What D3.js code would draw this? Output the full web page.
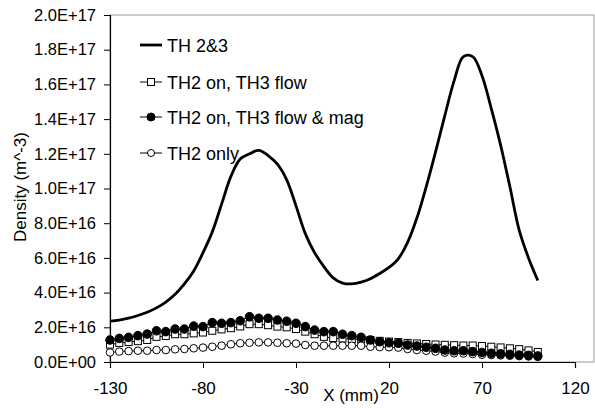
<!DOCTYPE html>
<html><head><meta charset="utf-8">
<script src="https://cdn.jsdelivr.net/npm/d3@7"></script>
<style>body{margin:0;background:#fff}svg{display:block;font-family:"Liberation Sans",Arial,sans-serif}</style>
</head><body><svg id="c" width="595" height="413"></svg>
<script>
// X positions (mm)
const xMain = [-130,-125,-120,-115,-110,-105,-100,-95,-90,-85,-80,-75,-70,-65,-60,-55,-50,-45,-40,-35,-30,-25,-20,-15,-10,-5,0,5,10,15,20,25,30,35,40,45,50,55,60,65,70,75,80,85,90,95,100];
// TH 2&3 (units of 1E16 m^-3)
const th23 = [2.35,2.42,2.53,2.68,2.87,3.12,3.45,3.9,4.5,5.25,6.3,7.5,9.1,10.7,11.7,12.0,12.2,11.9,11.4,10.5,9.0,7.4,6.3,5.5,4.85,4.55,4.5,4.6,4.8,5.1,5.45,5.95,6.9,8.3,10.1,12.1,14.2,16.2,17.6,17.6,16.5,14.6,12.5,10.1,7.6,6.0,4.7];
// TH2 on, TH3 flow
const thFlow = [1.0,1.1,1.15,1.2,1.27,1.45,1.5,1.6,1.6,1.65,1.7,1.8,1.88,1.95,2.05,2.18,2.18,2.12,2.04,2.0,1.9,1.75,1.6,1.45,1.38,1.35,1.32,1.3,1.27,1.22,1.18,1.15,1.1,1.07,1.04,1.01,0.99,0.97,0.95,0.95,0.92,0.88,0.84,0.79,0.74,0.67,0.58];
// TH2 on, TH3 flow & mag
const thFlowMag = [1.27,1.36,1.42,1.52,1.61,1.8,1.75,1.9,1.9,2.07,2.04,2.27,2.23,2.27,2.38,2.61,2.52,2.52,2.42,2.35,2.23,2.04,1.84,1.75,1.75,1.6,1.52,1.42,1.27,1.17,1.11,1.08,0.98,0.92,0.85,0.79,0.69,0.65,0.65,0.6,0.55,0.5,0.47,0.44,0.4,0.38,0.35];
// TH2 only
const th2only = [0.55,0.6,0.63,0.65,0.65,0.69,0.69,0.73,0.75,0.79,0.83,0.88,0.94,1.02,1.08,1.11,1.13,1.13,1.11,1.08,1.06,0.98,0.94,0.94,0.94,0.94,0.94,0.94,0.88,0.86,0.85,0.83,0.75,0.69,0.65,0.6,0.54,0.5,0.49,0.46,0.42,0.4,0.38,0.36,0.34,0.32,0.3];
const xTicks = [-130,-80,-30,20,70,120];
const yTicks = [0,2,4,6,8,10,12,14,16,18,20];
const yTickLabels = ["0.0E+00","2.0E+16","4.0E+16","6.0E+16","8.0E+16","1.0E+17","1.2E+17","1.4E+17","1.6E+17","1.8E+17","2.0E+17"];
const legendLabels = ["TH 2&3","TH2 on, TH3 flow","TH2 on, TH3 flow & mag","TH2 only"];

const svg = d3.select("#c");
const x = d3.scaleLinear().domain([-130,120]).range([110,575]);
const y = d3.scaleLinear().domain([0,20]).range([362,15]);

// plot area border
svg.append("rect").attr("x",110).attr("y",15).attr("width",484).attr("height",347)
  .attr("fill","none").attr("stroke","#9a9a9a").attr("stroke-width",1);

// axes
const yAxis = d3.axisLeft(y).tickValues(yTicks).tickSize(6).tickPadding(8)
  .tickFormat((d,i)=>yTickLabels[i]);
const gy = svg.append("g").attr("transform","translate(110,0)").call(yAxis);
gy.select(".domain").attr("stroke","#000").attr("stroke-width",1.2);
gy.selectAll("text").attr("font-size",16.5).attr("fill","#000").attr("font-family","Liberation Sans, Arial, sans-serif");

const xAxis = d3.axisBottom(x).tickValues(xTicks).tickSize(6).tickPadding(14).tickFormat(d=>String(d));
const gx = svg.append("g").attr("transform","translate(0,362)").call(xAxis);
gx.select(".domain").attr("stroke","#000").attr("stroke-width",1.2);
gx.selectAll("text").attr("font-size",17).attr("fill","#000").attr("font-family","Liberation Sans, Arial, sans-serif");

// axis titles
svg.append("text").attr("x",351).attr("y",401).attr("text-anchor","middle")
  .attr("font-size",17).text("X (mm)");
svg.append("text").attr("transform","translate(26,187) rotate(-90)").attr("text-anchor","middle")
  .attr("font-size",17).text("Density (m^-3)");

const pts = arr => xMain.map((xv,i)=>[xv,arr[i]]);
const smooth = d3.line().x(d=>x(d[0])).y(d=>y(d[1])).curve(d3.curveCatmullRom.alpha(0.5));
const straight = d3.line().x(d=>x(d[0])).y(d=>y(d[1]));

// marker series
function markerSeries(arr, kind){
  const g = svg.append("g");
  g.append("path").attr("d",straight(pts(arr))).attr("fill","none").attr("stroke","#000").attr("stroke-width",1);
  const data = pts(arr);
  if(kind==="square"){
    g.selectAll("rect").data(data).enter().append("rect")
      .attr("x",d=>x(d[0])-3.5).attr("y",d=>y(d[1])-3.5).attr("width",7).attr("height",7)
      .attr("fill","#fff").attr("stroke","#000").attr("stroke-width",1);
  } else {
    g.selectAll("circle").data(data).enter().append("circle")
      .attr("cx",d=>x(d[0])).attr("cy",d=>y(d[1])).attr("r",kind==="filled"?4.3:3.8)
      .attr("fill",kind==="filled"?"#000":"#fff").attr("stroke","#000").attr("stroke-width",1);
  }
}
markerSeries(thFlow,"square");
markerSeries(th2only,"open");
markerSeries(thFlowMag,"filled");

// main curve
svg.append("path").attr("d",smooth(pts(th23))).attr("fill","none").attr("stroke","#000").attr("stroke-width",2.8);

// legend
const ly = [45,82,117,153];
const kinds = ["line","square","filled","open"];
legendLabels.forEach((lab,i)=>{
  const g = svg.append("g");
  g.append("line").attr("x1",140).attr("x2",162).attr("y1",ly[i]).attr("y2",ly[i])
    .attr("stroke","#000").attr("stroke-width",kinds[i]==="line"?2.8:1);
  if(kinds[i]==="square") g.append("rect").attr("x",147.5).attr("y",ly[i]-3.5).attr("width",7).attr("height",7).attr("fill","#fff").attr("stroke","#000");
  if(kinds[i]==="filled") g.append("circle").attr("cx",151).attr("cy",ly[i]).attr("r",4).attr("fill","#000").attr("stroke","#000");
  if(kinds[i]==="open") g.append("circle").attr("cx",151).attr("cy",ly[i]).attr("r",3.5).attr("fill","#fff").attr("stroke","#000");
  g.append("text").attr("x",167).attr("y",ly[i]+6.5).attr("font-size",18).text(lab);
});
</script></body></html>
